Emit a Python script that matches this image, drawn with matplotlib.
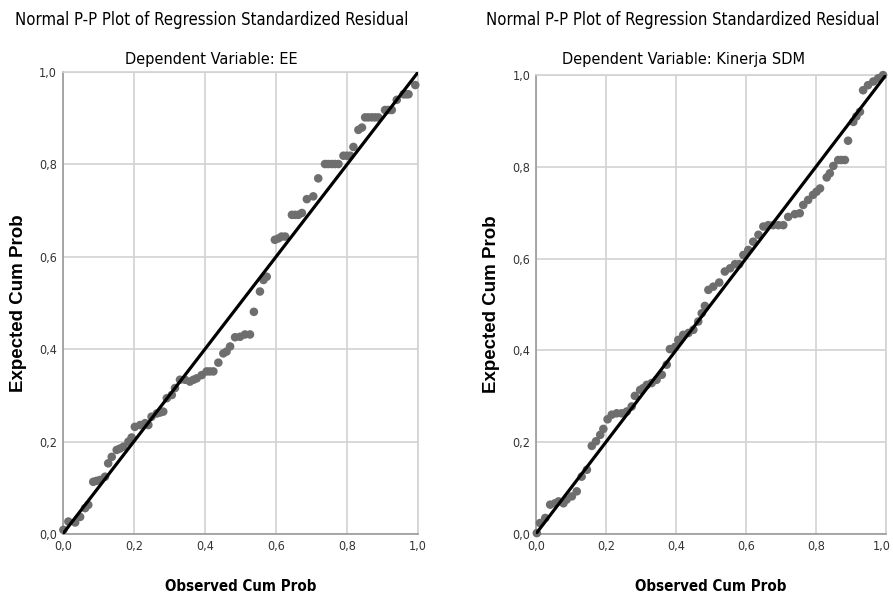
import matplotlib.pyplot as plt
from matplotlib.ticker import FuncFormatter
from matplotlib.transforms import ScaledTranslation

# SPSS output uses a narrow sans; use the condensed DejaVu face
plt.rcParams['font.family'] = ['DejaVu Sans']
plt.rcParams['font.stretch'] = 'condensed'

# ---- data ----
ee_observed = [0.002, 0.016, 0.035, 0.049, 0.063, 0.072, 0.086, 0.095, 0.105, 0.119,
               0.128, 0.138, 0.152, 0.161, 0.171, 0.185, 0.194, 0.203, 0.218, 0.232,
               0.241, 0.250, 0.265, 0.274, 0.283, 0.293, 0.307, 0.316, 0.330, 0.344,
               0.358, 0.368, 0.377, 0.391, 0.405, 0.414, 0.424, 0.438, 0.452, 0.461,
               0.471, 0.485, 0.499, 0.513, 0.527, 0.538, 0.555, 0.565, 0.574, 0.597,
               0.607, 0.616, 0.626, 0.645, 0.654, 0.663, 0.673, 0.687, 0.705, 0.719,
               0.738, 0.747, 0.757, 0.766, 0.776, 0.790, 0.800, 0.809, 0.818, 0.832,
               0.842, 0.851, 0.860, 0.870, 0.879, 0.888, 0.907, 0.916, 0.926, 0.940,
               0.959, 0.966, 0.973, 0.992]
ee_expected = [0.009, 0.027, 0.025, 0.037, 0.056, 0.063, 0.113, 0.115, 0.117, 0.124,
               0.153, 0.167, 0.182, 0.185, 0.189, 0.200, 0.209, 0.232, 0.236, 0.240,
               0.236, 0.254, 0.261, 0.263, 0.265, 0.294, 0.301, 0.316, 0.334, 0.334,
               0.330, 0.334, 0.337, 0.344, 0.352, 0.352, 0.352, 0.371, 0.391, 0.395,
               0.406, 0.426, 0.427, 0.432, 0.432, 0.481, 0.525, 0.550, 0.557, 0.637,
               0.640, 0.644, 0.644, 0.691, 0.691, 0.691, 0.695, 0.725, 0.731, 0.770,
               0.801, 0.801, 0.801, 0.801, 0.801, 0.819, 0.819, 0.819, 0.838, 0.875,
               0.880, 0.902, 0.902, 0.902, 0.902, 0.902, 0.918, 0.918, 0.918, 0.940,
               0.952, 0.952, 0.952, 0.972]

sdm_observed = [0.003, 0.012, 0.027, 0.041, 0.055, 0.065, 0.079, 0.088, 0.103, 0.117,
                0.131, 0.146, 0.160, 0.172, 0.184, 0.193, 0.205, 0.217, 0.231, 0.245,
                0.260, 0.274, 0.283, 0.298, 0.307, 0.317, 0.331, 0.345, 0.360, 0.374,
                0.383, 0.398, 0.407, 0.421, 0.436, 0.450, 0.464, 0.474, 0.483, 0.493,
                0.507, 0.524, 0.540, 0.555, 0.569, 0.581, 0.593, 0.607, 0.621, 0.636,
                0.650, 0.664, 0.678, 0.693, 0.707, 0.721, 0.740, 0.754, 0.764, 0.778,
                0.792, 0.802, 0.812, 0.831, 0.840, 0.850, 0.864, 0.873, 0.883, 0.892,
                0.907, 0.916, 0.926, 0.935, 0.949, 0.964, 0.978, 0.992]
sdm_expected = [0.002, 0.024, 0.035, 0.064, 0.067, 0.071, 0.067, 0.075, 0.082, 0.093,
                0.125, 0.140, 0.192, 0.202, 0.216, 0.229, 0.250, 0.260, 0.263, 0.263,
                0.267, 0.278, 0.301, 0.314, 0.318, 0.325, 0.329, 0.336, 0.347, 0.369,
                0.403, 0.408, 0.423, 0.434, 0.438, 0.445, 0.463, 0.481, 0.497, 0.532,
                0.539, 0.548, 0.572, 0.579, 0.588, 0.588, 0.608, 0.619, 0.637, 0.652,
                0.670, 0.673, 0.673, 0.673, 0.673, 0.691, 0.697, 0.699, 0.717, 0.728,
                0.739, 0.746, 0.753, 0.777, 0.786, 0.802, 0.815, 0.815, 0.815, 0.857,
                0.898, 0.910, 0.920, 0.967, 0.978, 0.986, 0.993, 1.000]

ticks = [0.0, 0.2, 0.4, 0.6, 0.8, 1.0]
main_title = "Normal P-P Plot of Regression Standardized Residual"
panels = [
    ("Dependent Variable: EE", ee_observed, ee_expected),
    ("Dependent Variable: Kinerja SDM", sdm_observed, sdm_expected),
]

# Axes rectangles in figure fractions (figure is 893 x 596 px)
boxes = [
    [0.0702, 0.104, 0.398, 0.775],
    [0.600, 0.104, 0.392, 0.770],
]
title_x = [0.237, 0.765]

dot_color = "#6e6e6e"
grid_color = "#d2d2d2"
axis_color = "#9a9a9a"

fig = plt.figure(figsize=(8.93, 5.96), dpi=100)
fig.patch.set_facecolor("white")

comma = FuncFormatter(lambda v, pos: f"{v:.1f}".replace(".", ","))

for i, ((sub, obs, exp), box, tx) in enumerate(zip(panels, boxes, title_x)):
    ax = fig.add_axes(box)
    ax.set_xlim(0, 1)
    ax.set_ylim(0, 1)
    ax.set_xticks(ticks)
    ax.set_yticks(ticks)
    ax.xaxis.set_major_formatter(comma)
    ax.yaxis.set_major_formatter(comma)
    ax.grid(True, color=grid_color, linewidth=1.2)
    ax.set_axisbelow(True)
    for side in ["top", "right"]:
        ax.spines[side].set_color(grid_color)
        ax.spines[side].set_linewidth(1.2)
    for side in ["left", "bottom"]:
        ax.spines[side].set_color(axis_color)
        ax.spines[side].set_linewidth(1.2)
    ax.tick_params(length=0, pad=4, labelsize=9, colors="#333333")
    if i == 1:
        # nudge the last x label so it stays inside the figure
        lab = ax.xaxis.get_major_ticks()[-1].label1
        lab.set_transform(lab.get_transform() + ScaledTranslation(-4 / 100, 0, fig.dpi_scale_trans))

    ax.scatter(obs, exp, s=38, color=dot_color, edgecolors="none", zorder=3, clip_on=False)
    ax.plot([0, 1], [0, 1], color="black", linewidth=2.3, zorder=4, solid_capstyle="butt")

    ax.set_xlabel("Observed Cum Prob", fontsize=10.8, fontweight="bold", labelpad=19)
    ax.set_ylabel("Expected Cum Prob", fontsize=13.5, fontweight="bold", labelpad=9,
                  family=["Liberation Sans", "DejaVu Sans"], fontstretch="normal")

    fig.text(tx, 0.967, main_title, ha="center", va="center", fontsize=12)
    fig.text(tx, 0.901, sub, ha="center", va="center", fontsize=11.7)

fig.savefig("out.png", dpi=100, facecolor="white")
